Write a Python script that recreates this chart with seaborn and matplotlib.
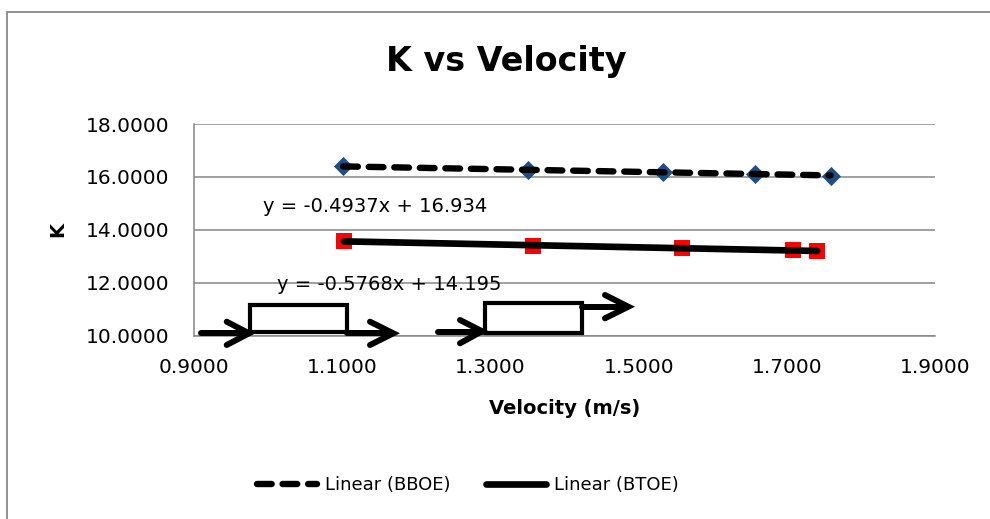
import numpy as np
import pandas as pd
import matplotlib
matplotlib.use("Agg")
import matplotlib.pyplot as plt
import matplotlib.ticker as mticker
from matplotlib.lines import Line2D
from matplotlib.patches import Rectangle
from matplotlib.transforms import Affine2D
import seaborn as sns

# ---- data ----
vel_bboe = [1.101, 1.350, 1.533, 1.657, 1.759]
k_bboe = [16.40, 16.26, 16.17, 16.12, 16.05]
vel_btoe = [1.102, 1.357, 1.558, 1.708, 1.741]
k_btoe = [13.57, 13.40, 13.30, 13.22, 13.20]
eq_bboe = "y = -0.4937x + 16.934"
eq_btoe = "y = -0.5768x + 14.195"
series_names = ["Linear (BBOE)", "Linear (BTOE)"]
x_ticks = [0.9, 1.1, 1.3, 1.5, 1.7, 1.9]
y_ticks = [10, 12, 14, 16, 18]

sns.set_style("white")
plt.rcParams['font.family'] = ['DejaVu Sans']
plt.rcParams['text.color'] = 'black'
plt.rcParams['axes.labelcolor'] = 'black'

W, H = 990, 519
fig = plt.figure(figsize=(W / 100, H / 100), dpi=100)
fig.patch.set_facecolor("white")

ax = fig.add_axes([194.3 / W, 1 - 335.5 / H, (935 - 194.3) / W, (335.5 - 124) / H])

DASH = (2.3, 1.7)
dash_kws = dict(color="black", lw=4.6, dashes=DASH, dash_capstyle="round",
                solid_capstyle="round", zorder=4)
solid_kws = dict(color="black", lw=4.8, solid_capstyle="round", zorder=4)

sns.regplot(x=vel_bboe, y=k_bboe, ax=ax, ci=None, truncate=True, marker="D",
            scatter_kws=dict(s=95, color="#1F4E84", linewidths=0, zorder=3, alpha=1),
            line_kws=dash_kws)
sns.regplot(x=vel_btoe, y=k_btoe, ax=ax, ci=None, truncate=True, marker="s",
            scatter_kws=dict(s=120, color="#FF0000", linewidths=0, zorder=3, alpha=1),
            line_kws=solid_kws)

ax.set_xlim(0.9, 1.9)
ax.set_ylim(10, 18)
ax.set_xticks(x_ticks)
ax.set_yticks(y_ticks)
ax.xaxis.set_major_formatter(mticker.FormatStrFormatter("%.4f"))
ax.yaxis.set_major_formatter(mticker.FormatStrFormatter("%.4f"))
ax.tick_params(axis="both", labelsize=14.5, colors="#868686", labelcolor="black",
               length=5, width=1.0, direction="out")
ax.tick_params(axis="y", pad=13)
ax.tick_params(axis="x", pad=11)
ax.yaxis.grid(True, color="#868686", lw=1.1)
ax.xaxis.grid(False)
ax.set_axisbelow(True)
for s in ["top", "right"]:
    ax.spines[s].set_visible(False)
for s in ["left", "bottom"]:
    ax.spines[s].set_color("#868686")
    ax.spines[s].set_linewidth(1.1)

ax.set_xlabel("Velocity (m/s)", fontsize=14, fontweight="bold", color="black")
ax.xaxis.set_label_coords(0.5005, -0.30)
ax.set_ylabel("K", fontsize=14, fontweight="bold", color="black")
ax.yaxis.set_label_coords(-0.172, 0.499)

ax.text((263.3 - 194.3) / 740.7, (335.5 - 211.7) / 211.5, eq_bboe, transform=ax.transAxes,
        ha="left", va="baseline", fontsize=14, color="black", zorder=2)
ax.text((276.7 - 194.3) / 740.7, (335.5 - 290) / 211.5, eq_btoe, transform=ax.transAxes,
        ha="left", va="baseline", fontsize=14, color="black", zorder=1)

fig.text(506 / W, 1 - 62 / H, "K vs Velocity", ha="center", va="center",
         fontsize=24, fontweight="bold", color="black")

# chart-area border (clipped by figure on right/bottom)
fig.add_artist(Rectangle((7 / W, -0.2), 2, 1.2 - 11.7 / H, transform=fig.transFigure,
                         fill=False, ec="#888888", lw=1.3))

# free-drawn shapes (pixel coordinates, y down)
T = Affine2D().scale(1, -1).translate(0, H)
arrow_lines = [
    [(200.7, 333.3), (249, 333.3)],
    [(346.7, 333.3), (392, 333.3)],
    [(438.3, 331.7), (482, 331.7)],
    [(582.3, 306.7), (627, 306.7)],
]
chevrons = [
    [(226.7, 321.7), (249, 333.3), (226.7, 345)],
    [(370, 321.7), (393.3, 333.3), (370, 345)],
    [(460, 320), (482, 331.2), (460, 343.3)],
    [(605, 295), (628.3, 306.7), (605, 318.3)],
]
rects = [(250, 305, 346.7, 332.3), (485, 303.3, 582.3, 332.7)]
for seg in arrow_lines + chevrons:
    xs, ys = zip(*seg)
    fig.add_artist(Line2D(xs, ys, transform=T, color="black", lw=4.3,
                          solid_capstyle="round", solid_joinstyle="miter"))
for (x0, y0, x1, y1) in rects:
    fig.add_artist(Line2D([x0, x0, x1, x1, x0], [y1, y0, y0, y1, y1], transform=T,
                          color="black", lw=3.0, solid_joinstyle="miter"))

handles = [Line2D([], [], color="black", lw=4.6, dashes=DASH, dash_capstyle="round"),
           Line2D([], [], color="black", lw=4.8, solid_capstyle="round")]
fig.legend(handles, series_names, loc="center", bbox_to_anchor=(468 / W, 1 - 485 / H),
           ncol=2, frameon=False, fontsize=13, handlelength=3.3, handletextpad=0.45,
           columnspacing=2.0)

fig.savefig("out.png", dpi=100)
